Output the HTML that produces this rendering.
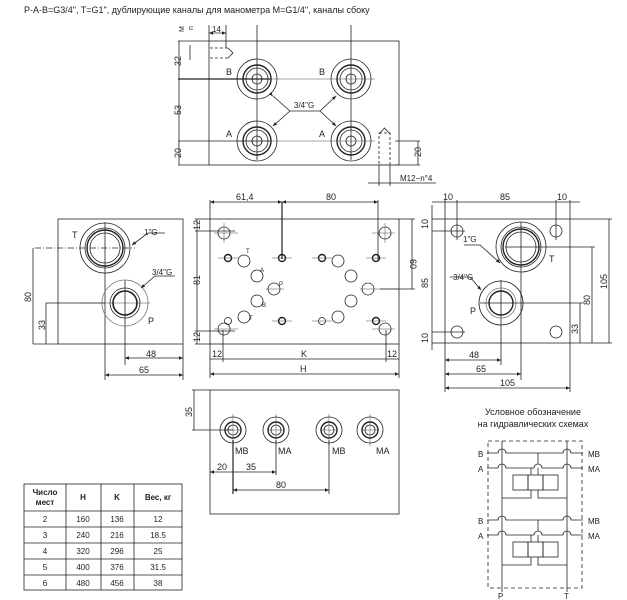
<!DOCTYPE html>
<html><head><meta charset="utf-8"><style>
body{margin:0;background:#fff}
svg{display:block;font-family:"Liberation Sans",sans-serif}
text{fill:#222}
</style></head><body>
<svg width="627" height="600" viewBox="0 0 627 600" xmlns="http://www.w3.org/2000/svg">
<defs>
<marker id="a" markerWidth="6" markerHeight="6" refX="5" refY="3" orient="auto"><path d="M0,0.8L5,3L0,5.2z" fill="#222"/></marker>
<marker id="b" markerWidth="6" markerHeight="6" refX="1" refY="3" orient="auto"><path d="M6,0.8L1,3L6,5.2z" fill="#222"/></marker>
</defs>
<text x="24" y="13" font-size="9">P-A-B=G3/4", T=G1", дублирующие каналы для манометра M=G1/4", каналы сбоку</text>
<g stroke="#222" fill="none" stroke-width="0.8">
<!-- TOP VIEW -->
<rect x="209" y="41" width="190" height="124"/>
<line x1="178" y1="41" x2="209" y2="41"/><line x1="178" y1="79" x2="270" y2="79" stroke-width="1.2"/>
<line x1="178" y1="141" x2="270" y2="141"/><line x1="178" y1="165" x2="209" y2="165"/>
<line x1="179" y1="41" x2="179" y2="165"/>
<line x1="257" y1="25" x2="257" y2="160"/><line x1="351" y1="25" x2="351" y2="160"/>
<line x1="237" y1="79" x2="375" y2="79" stroke-width="0.4"/><line x1="237" y1="141" x2="375" y2="141" stroke-width="0.4"/>
<g id="pt">
<circle cx="257" cy="79" r="20"/><circle cx="257" cy="79" r="14" stroke-width="1.4"/><circle cx="257" cy="79" r="11"/><circle cx="257" cy="79" r="5"/>
</g>
<use href="#pt" x="94"/><use href="#pt" y="62"/><use href="#pt" x="94" y="62"/>
<polyline points="273,96 290,111 320,111 336,96" marker-start="url(#a)" marker-end="url(#a)"/>
<line x1="290" y1="111" x2="273" y2="126" marker-end="url(#a)"/><line x1="320" y1="111" x2="336" y2="126" marker-end="url(#a)"/>
<line x1="190" y1="45" x2="190" y2="60"/><line x1="210" y1="48" x2="230" y2="48" stroke-dasharray="3,2"/><line x1="210" y1="58" x2="230" y2="58" stroke-dasharray="3,2"/>
<path d="M228,48 L233,53 L228,58"/>
<line x1="209" y1="25" x2="209" y2="41"/><line x1="226" y1="25" x2="226" y2="48"/>
<line x1="209" y1="33" x2="226" y2="33" marker-start="url(#b)" marker-end="url(#a)"/>
<rect x="379" y="133" width="11" height="32" stroke-dasharray="3,2"/><path d="M379,134 L384.5,128 L390,134"/>
<line x1="379" y1="165" x2="379" y2="186"/><line x1="390" y1="165" x2="390" y2="186"/>
<line x1="368" y1="183" x2="436" y2="183"/>
<line x1="395" y1="141" x2="420" y2="141"/><line x1="395" y1="165" x2="420" y2="165"/><line x1="418" y1="141" x2="418" y2="165"/>
<!-- LEFT VIEW -->
<rect x="58" y="219" width="125" height="125"/>
<line x1="35" y1="248" x2="135" y2="248" stroke-dasharray="6,2,1,2"/>
<line x1="105" y1="222" x2="105" y2="380"/><line x1="125" y1="280" x2="125" y2="365"/>
<circle cx="105" cy="248" r="25"/><circle cx="105" cy="248" r="20"/><circle cx="105" cy="248" r="18" stroke-width="1.4"/><circle cx="105" cy="248" r="15"/>
<circle cx="125" cy="303" r="23" stroke="#777"/><circle cx="125" cy="303" r="15"/><circle cx="125" cy="303" r="12" stroke-width="1.6"/>
<line x1="80" y1="303" x2="150" y2="303" stroke-width="0.4"/>
<polyline points="165,233 148,233 132,245" marker-end="url(#a)"/>
<polyline points="175,276 155,276 141,288" marker-end="url(#a)"/>
<line x1="33" y1="248" x2="33" y2="344"/><line x1="33" y1="344" x2="58" y2="344"/>
<line x1="46" y1="303" x2="46" y2="344"/><line x1="46" y1="303" x2="105" y2="303"/>
<line x1="125" y1="358" x2="183" y2="358" marker-start="url(#b)" marker-end="url(#a)"/>
<line x1="105" y1="375" x2="183" y2="375" marker-start="url(#b)" marker-end="url(#a)"/>
<line x1="183" y1="344" x2="183" y2="380"/>
<!-- CENTER VIEW -->
<rect x="210" y="219" width="189" height="125"/>
<line x1="210" y1="200" x2="210" y2="219"/><line x1="378" y1="200" x2="378" y2="260"/>
<line x1="282" y1="202" x2="282" y2="259" stroke-width="1.2"/>
<line x1="210" y1="202" x2="282" y2="202" marker-start="url(#b)" marker-end="url(#a)"/>
<line x1="282" y1="202" x2="378" y2="202" marker-start="url(#b)" marker-end="url(#a)"/>
<line x1="399" y1="219" x2="415" y2="219"/><line x1="380" y1="289" x2="415" y2="289"/><line x1="412" y1="219" x2="412" y2="289"/>
<line x1="195" y1="219" x2="210" y2="219"/><line x1="195" y1="231" x2="235" y2="231"/><line x1="195" y1="331" x2="235" y2="331"/><line x1="195" y1="344" x2="210" y2="344"/>
<line x1="197" y1="219" x2="197" y2="344"/>
<line x1="210" y1="344" x2="210" y2="378"/><line x1="399" y1="344" x2="399" y2="378"/>
<line x1="223" y1="330" x2="223" y2="362"/><line x1="386" y1="330" x2="386" y2="362"/>
<line x1="210" y1="359" x2="399" y2="359"/><line x1="210" y1="374" x2="399" y2="374" marker-start="url(#b)" marker-end="url(#a)"/>
<g>
<circle cx="224" cy="233" r="6"/><circle cx="385" cy="233" r="6"/><circle cx="224" cy="329" r="6"/><circle cx="385" cy="329" r="6"/>
<circle cx="228" cy="258" r="3.5" stroke-width="1.4"/><circle cx="282" cy="258" r="3.5" stroke-width="1.4"/><circle cx="322" cy="258" r="3.5" stroke-width="1.4"/><circle cx="376" cy="258" r="3.5" stroke-width="1.4"/>
<circle cx="228" cy="321" r="3.5"/><circle cx="282" cy="321" r="3.5" stroke-width="1.4"/><circle cx="322" cy="321" r="3.5"/><circle cx="376" cy="321" r="3.5" stroke-width="1.4"/>
<circle cx="244" cy="261" r="6"/><circle cx="257" cy="276" r="6"/><circle cx="274" cy="289" r="6"/><circle cx="257" cy="301" r="6"/><circle cx="244" cy="317" r="6"/>
<circle cx="338" cy="261" r="6"/><circle cx="351" cy="276" r="6"/><circle cx="368" cy="289" r="6"/><circle cx="351" cy="301" r="6"/><circle cx="338" cy="317" r="6"/>
</g>
<g stroke-width="0.4">
<line x1="214" y1="233" x2="238" y2="233"/><line x1="224" y1="223" x2="224" y2="243"/><line x1="372" y1="233" x2="395" y2="233"/><line x1="385" y1="223" x2="385" y2="243"/>
<line x1="214" y1="329" x2="238" y2="329"/><line x1="372" y1="329" x2="395" y2="329"/>
<line x1="218" y1="258" x2="238" y2="258"/><line x1="272" y1="258" x2="292" y2="258"/><line x1="312" y1="258" x2="332" y2="258"/><line x1="366" y1="258" x2="386" y2="258"/>
<line x1="272" y1="321" x2="292" y2="321"/><line x1="312" y1="321" x2="332" y2="321"/><line x1="366" y1="321" x2="386" y2="321"/>
<line x1="266" y1="289" x2="284" y2="289"/><line x1="360" y1="289" x2="399" y2="289"/>
</g>
<!-- RIGHT VIEW -->
<rect x="445" y="219" width="125" height="124"/>
<line x1="445" y1="200" x2="445" y2="219"/><line x1="457" y1="200" x2="457" y2="240"/><line x1="556" y1="200" x2="556" y2="240"/><line x1="570" y1="200" x2="570" y2="219"/>
<line x1="432" y1="202" x2="580" y2="202"/>
<line x1="432" y1="219" x2="445" y2="219"/><line x1="432" y1="231" x2="465" y2="231"/><line x1="432" y1="332" x2="465" y2="332"/><line x1="432" y1="343" x2="445" y2="343"/>
<line x1="432" y1="205" x2="432" y2="350"/>
<circle cx="457" cy="231" r="6"/><circle cx="556" cy="231" r="6"/><circle cx="457" cy="332" r="6"/><circle cx="556" cy="332" r="6"/>
<circle cx="521" cy="247" r="25"/><circle cx="521" cy="247" r="20"/><circle cx="521" cy="247" r="18" stroke-width="1.4"/><circle cx="521" cy="247" r="15"/>
<line x1="521" y1="222" x2="521" y2="380"/><line x1="501" y1="280" x2="501" y2="365"/>
<circle cx="501" cy="303" r="22"/><circle cx="501" cy="303" r="15" stroke="#777"/><circle cx="501" cy="303" r="12" stroke-width="1.4"/>
<line x1="505" y1="247" x2="595" y2="247"/><line x1="480" y1="303" x2="583" y2="303"/><line x1="570" y1="219" x2="612" y2="219"/><line x1="570" y1="343" x2="612" y2="343"/>
<line x1="580" y1="303" x2="580" y2="343"/><line x1="592" y1="247" x2="592" y2="343"/><line x1="609" y1="219" x2="609" y2="343"/>
<polyline points="464,245 480,245 500,263" marker-end="url(#a)"/>
<polyline points="450,277 470,277 481,290" marker-end="url(#a)"/>
<line x1="445" y1="343" x2="445" y2="392"/><line x1="570" y1="343" x2="570" y2="392"/>
<line x1="445" y1="360" x2="501" y2="360" marker-start="url(#b)" marker-end="url(#a)"/>
<line x1="445" y1="374" x2="521" y2="374" marker-start="url(#b)" marker-end="url(#a)"/>
<line x1="445" y1="388" x2="570" y2="388" marker-start="url(#b)" marker-end="url(#a)"/>
<!-- BOTTOM VIEW -->
<rect x="210" y="390" width="189" height="124"/>
<line x1="192" y1="390" x2="210" y2="390"/><line x1="192" y1="430" x2="233" y2="430"/><line x1="194" y1="390" x2="194" y2="430"/>
<g id="mp"><circle cx="233" cy="430" r="13"/><circle cx="233" cy="430" r="8" stroke-width="1.4"/><circle cx="233" cy="430" r="5"/>
<line x1="225" y1="430" x2="241" y2="430" stroke-width="0.4"/><line x1="233" y1="414" x2="233" y2="446" stroke-width="0.4"/></g>
<use href="#mp" x="43"/><use href="#mp" x="96"/><use href="#mp" x="137"/>
<line x1="233" y1="440" x2="233" y2="494" stroke-width="1.2"/><line x1="276" y1="440" x2="276" y2="475"/><line x1="329" y1="440" x2="329" y2="494"/>
<line x1="210" y1="472" x2="276" y2="472" marker-start="url(#b)" marker-end="url(#a)"/>
<line x1="233" y1="490" x2="329" y2="490" marker-start="url(#b)" marker-end="url(#a)"/>
<!-- TABLE -->
<rect x="24" y="484" width="158" height="106"/>
<line x1="66" y1="484" x2="66" y2="590"/><line x1="101" y1="484" x2="101" y2="590"/><line x1="134" y1="484" x2="134" y2="590"/>
<line x1="24" y1="511" x2="182" y2="511"/><line x1="24" y1="527" x2="182" y2="527"/><line x1="24" y1="543" x2="182" y2="543"/><line x1="24" y1="559" x2="182" y2="559"/><line x1="24" y1="575" x2="182" y2="575"/>
<!-- SCHEMATIC -->
<rect x="488" y="441" width="94" height="147" stroke-dasharray="4,3"/>
<line x1="502" y1="441" x2="502" y2="592"/><line x1="567" y1="441" x2="567" y2="592"/>
<g id="sg">
<path d="M487,453 H498 A4,4 0 0 1 506,453 H563 A4,4 0 0 1 571,453 H583"/>
<path d="M487,468 H498 A4,4 0 0 1 506,468 H534 A4,4 0 0 1 542,468 H563 A4,4 0 0 1 571,468 H583"/>
<line x1="538" y1="453" x2="538" y2="464"/>
<line x1="538" y1="468" x2="538" y2="475"/>
<polyline points="531,475 531,468"/>
<rect x="513" y="475" width="15" height="15"/><rect x="528" y="475" width="15" height="15"/><rect x="543" y="475" width="15" height="15"/>
<polyline points="531,490 531,498 502,498"/><polyline points="538,490 538,498 567,498"/>
</g>
<use href="#sg" y="67"/>
</g>
<g font-size="9">
<text x="184" y="32" font-size="7" transform="rotate(-90 184 32)">M</text><text x="193" y="30" font-size="7" transform="rotate(-90 193 30)">n</text>
<text x="212" y="32" font-size="8">14</text>
<text x="181" y="66" transform="rotate(-90 181 66)">32</text>
<text x="181" y="115" transform="rotate(-90 181 115)">53</text>
<text x="181" y="158" transform="rotate(-90 181 158)">20</text>
<text x="421" y="157" transform="rotate(-90 421 157)">20</text>
<text x="226" y="75">B</text><text x="319" y="75">B</text><text x="226" y="137">A</text><text x="319" y="137">A</text>
<text x="294" y="108" font-size="8">3/4"G</text>
<text x="400" y="181" font-size="8">M12−n°4</text>
<text x="72" y="238">T</text><text x="144" y="235" font-size="8">1"G</text><text x="152" y="275" font-size="8">3/4"G</text><text x="148" y="324">P</text>
<text x="31" y="302" transform="rotate(-90 31 302)">80</text>
<text x="45" y="330" transform="rotate(-90 45 330)">33</text>
<text x="146" y="357">48</text><text x="139" y="373">65</text>
<text x="236" y="200">61,4</text><text x="326" y="200">80</text>
<text x="200" y="230" transform="rotate(-90 200 230)">12</text>
<text x="200" y="285" transform="rotate(-90 200 285)">81</text>
<text x="200" y="342" transform="rotate(-90 200 342)">12</text>
<text x="410" y="259" transform="rotate(90 410 259)">60</text>
<text x="212" y="357">12</text><text x="301" y="357">K</text><text x="387" y="357">12</text><text x="300" y="372">H</text>
<g font-size="6"><text x="246" y="253">T</text><text x="260" y="272">A</text><text x="279" y="286">P</text><text x="262" y="307">B</text><text x="249" y="320">T</text></g>
<text x="443" y="200">10</text><text x="500" y="200">85</text><text x="557" y="200">10</text>
<text x="428" y="229" transform="rotate(-90 428 229)">10</text>
<text x="428" y="288" transform="rotate(-90 428 288)" fill="#999">85</text>
<text x="428" y="343" transform="rotate(-90 428 343)">10</text>
<text x="549" y="262">T</text><text x="463" y="242" font-size="8">1"G</text><text x="453" y="280" font-size="8">3/4"G</text><text x="470" y="314" fill="#888">P</text>
<text x="578" y="334" transform="rotate(-90 578 334)">33</text>
<text x="590" y="305" transform="rotate(-90 590 305)">80</text>
<text x="607" y="289" transform="rotate(-90 607 289)">105</text>
<text x="469" y="358">48</text><text x="476" y="372">65</text><text x="500" y="386">105</text>
<text x="192" y="417" transform="rotate(-90 192 417)">35</text>
<text x="235" y="454">MB</text><text x="278" y="454">MA</text><text x="332" y="454">MB</text><text x="376" y="454">MA</text>
<text x="217" y="470">20</text><text x="246" y="470">35</text><text x="276" y="488">80</text>
<g font-size="8" text-anchor="middle">
<text x="45" y="495" font-weight="bold">Число</text><text x="45" y="505" font-weight="bold">мест</text>
<text x="83" y="500" font-weight="bold">H</text><text x="117" y="500" font-weight="bold">K</text><text x="158" y="500" font-weight="bold">Вес, кг</text>
<text x="45" y="522">2</text><text x="83" y="522">160</text><text x="117" y="522">136</text><text x="158" y="522">12</text>
<text x="45" y="538">3</text><text x="83" y="538">240</text><text x="117" y="538">216</text><text x="158" y="538">18.5</text>
<text x="45" y="554">4</text><text x="83" y="554">320</text><text x="117" y="554">296</text><text x="158" y="554">25</text>
<text x="45" y="570">5</text><text x="83" y="570">400</text><text x="117" y="570">376</text><text x="158" y="570">31.5</text>
<text x="45" y="586">6</text><text x="83" y="586">480</text><text x="117" y="586">456</text><text x="158" y="586">38</text>
</g>
<text x="533" y="415" text-anchor="middle">Условное обозначение</text>
<text x="533" y="427" text-anchor="middle">на гидравлических схемах</text>
<text x="478" y="457" font-size="8">B</text><text x="478" y="472" font-size="8">A</text><text x="588" y="457" font-size="8">MB</text><text x="588" y="472" font-size="8">MA</text>
<text x="478" y="524" font-size="8">B</text><text x="478" y="539" font-size="8">A</text><text x="588" y="524" font-size="8">MB</text><text x="588" y="539" font-size="8">MA</text>
<text x="498" y="599" font-size="8">P</text><text x="564" y="599" font-size="8">T</text>
</g>
</svg>
</body></html>
